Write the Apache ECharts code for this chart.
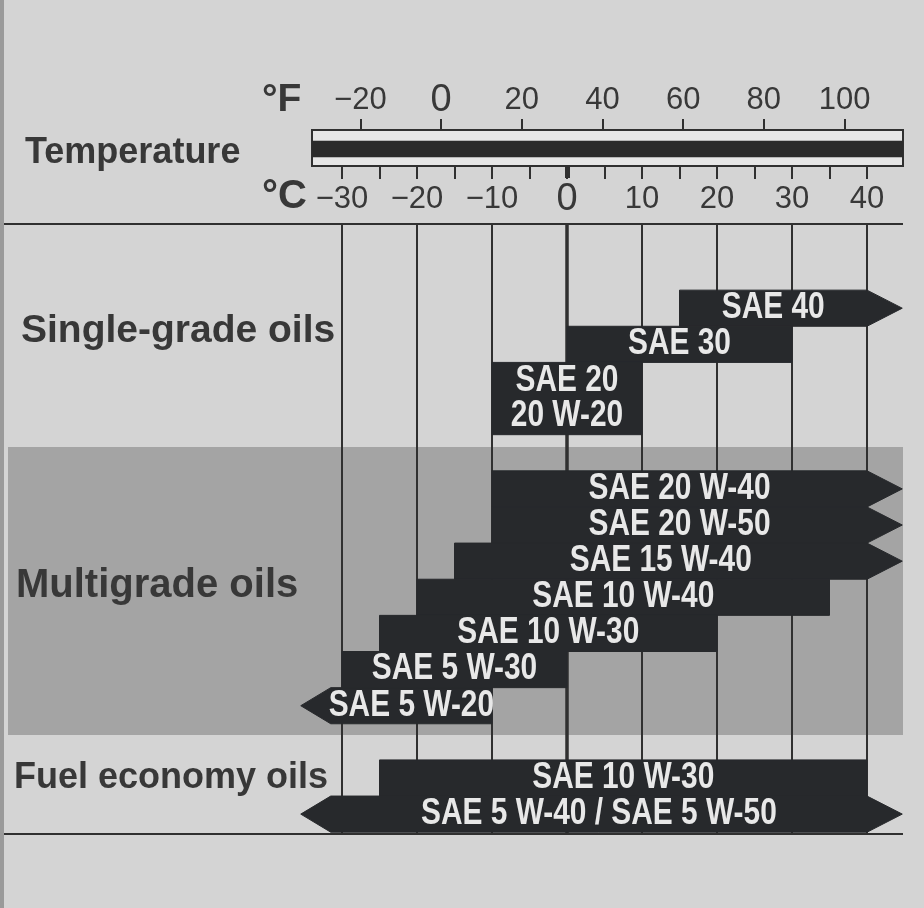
<!DOCTYPE html>
<html>
<head>
<meta charset="utf-8">
<title>Engine oil viscosity / temperature chart</title>
<script src="https://cdn.jsdelivr.net/npm/echarts@6/dist/echarts.min.js"></script>
<style>
  html, body { margin: 0; padding: 0; background: #d4d4d4; }
  #chart { width: 924px; height: 908px; }
</style>
</head>
<body>
<div id="chart"></div>
<script>
// temperature scale
const celsiusLabels = [-30, -20, -10, 0, 10, 20, 30, 40];
const celsiusTicks = [-30, -25, -20, -15, -10, -5, 0, 5, 10, 15, 20, 25, 30, 35, 40];
const fahrenheitLabels = [-20, 0, 20, 40, 60, 80, 100];

// oil grades, top to bottom. from/to in °C, null = open end (arrow)
const gradeNames = [
  'SAE 40', 'SAE 30', 'SAE 20\n20 W-20',
  'SAE 20 W-40', 'SAE 20 W-50', 'SAE 15 W-40', 'SAE 10 W-40', 'SAE 10 W-30', 'SAE 5 W-30', 'SAE 5 W-20',
  'SAE 10 W-30', 'SAE 5 W-40 / SAE 5 W-50'
];
const gradeGroup = [0, 0, 0, 1, 1, 1, 1, 1, 1, 1, 2, 2];
const gradeFrom = [15, 0, -10, -10, -10, -15, -20, -25, -30, null, -25, null];
const gradeTo = [null, 30, 10, null, null, null, 35, 20, 0, -10, 40, null];
const groupNames = ['Single-grade oils', 'Multigrade oils', 'Fuel economy oils'];

// layout (rows of the main grid, one row per text line, one empty row between groups)
const ROW_MIN = -1.83, ROW_MAX = 15.05;
const BAND_ROWS = [4.34, 12.31];
const OPEN_LOW = -31.5, TIP_LOW = -35.5, OPEN_HIGH = 40, TIP_HIGH = 44.7, EDGE = 44.8;

const PAPER = '#d4d4d4';
const INK = '#303030';
const BAR = '#27292c';
const TEXT = '#383838';
const SANS = '"Liberation Sans", Arial, sans-serif';

const rowStart = [];
const rowSpan = gradeNames.map(n => n.split('\n').length);
let row = 0;
gradeNames.forEach((n, i) => {
  if (i > 0 && gradeGroup[i] !== gradeGroup[i - 1]) row += 1;
  rowStart.push(row);
  row += rowSpan[i];
});

const tempLabel = v => v === 0 ? '{zero|0}' : String(v).replace('-', '\u2212');
const labelStyle = {
  color: TEXT, fontSize: 31, fontFamily: SANS,
  formatter: tempLabel,
  rich: { zero: { fontSize: 38, lineHeight: 31, fontFamily: SANS, color: TEXT } }
};

const chart = echarts.init(document.getElementById('chart'));

function renderGrade (params, api) {
  const i = params.dataIndex;
  const x = v => api.coord([v, 0])[0];
  const y = r => api.coord([0, r])[1];
  const yt = y(rowStart[i]);
  const yb = y(rowStart[i] + rowSpan[i]);
  const ym = (yt + yb) / 2;
  const left = gradeFrom[i] === null ? OPEN_LOW : gradeFrom[i];
  const right = gradeTo[i] === null ? OPEN_HIGH : gradeTo[i];
  const pts = [[x(left), yt], [x(right), yt]];
  if (gradeTo[i] === null) pts.push([x(TIP_HIGH), ym]);
  pts.push([x(right), yb], [x(left), yb]);
  if (gradeFrom[i] === null) pts.push([x(TIP_LOW), ym]);
  return {
    type: 'group',
    children: [
      { type: 'polygon', shape: { points: pts }, style: { fill: BAR, stroke: BAR, lineWidth: 1 } },
      {
        type: 'text',
        x: (x(left) + x(right)) / 2,
        y: ym,
        scaleX: 0.83,
        style: {
          text: gradeNames[i],
          x: 0,
          y: 0,
          align: 'center',
          verticalAlign: 'middle',
          fill: '#e8e8e8',
          fontSize: 36,
          fontWeight: 'bold',
          fontFamily: SANS,
          lineHeight: 35
        }
      }
    ]
  };
}

const option = {
  backgroundColor: PAPER,
  animation: false,
  grid: [
    { left: 312, right: 21, top: 130, height: 36, show: true, backgroundColor: '#e6e6e6', borderColor: INK, borderWidth: 2 },
    { left: 342, right: 57, top: 224, bottom: 74 }
  ],
  xAxis: [
    {
      gridIndex: 0, type: 'value', position: 'bottom', min: -34, max: 44.8,
      axisLine: { show: false, onZero: false }, splitLine: { show: false },
      axisTick: { customValues: celsiusTicks, length: 13, lineStyle: { color: INK, width: 2 } },
      axisLabel: Object.assign({ customValues: celsiusLabels, margin: 18 }, labelStyle)
    },
    {
      gridIndex: 0, type: 'value', position: 'top', min: -32, max: 114.5,
      axisLine: { show: false, onZero: false }, splitLine: { show: false },
      axisTick: { customValues: fahrenheitLabels, length: 11, lineStyle: { color: INK, width: 2 } },
      axisLabel: Object.assign({ customValues: fahrenheitLabels, margin: 14 }, labelStyle)
    },
    {
      gridIndex: 0, type: 'value', position: 'bottom', min: -34, max: 44.8,
      axisLine: { show: false, onZero: false }, splitLine: { show: false },
      axisTick: { customValues: [0], length: 12, lineStyle: { color: INK, width: 5 } },
      axisLabel: { show: false, customValues: [0] }
    },
    { gridIndex: 1, type: 'value', min: -30, max: 40, show: false }
  ],
  yAxis: [
    { gridIndex: 0, type: 'value', min: 0, max: 1, inverse: true, show: false },
    { gridIndex: 1, type: 'value', min: ROW_MIN, max: ROW_MAX, inverse: true, show: false }
  ],
  series: [
    {
      // dark band inside the thermometer box
      type: 'custom', xAxisIndex: 0, yAxisIndex: 0, z: 3,
      data: [[0]],
      renderItem: (params, api) => {
        const cs = params.coordSys;
        const y0 = api.coord([0, 0.3])[1];
        const y1 = api.coord([0, 0.76])[1];
        return { type: 'rect', shape: { x: cs.x, y: y0, width: cs.width, height: y1 - y0 }, style: { fill: '#2b2b2b' } };
      }
    },
    {
      // grey multigrade band
      type: 'custom', xAxisIndex: 3, yAxisIndex: 1, z: 1, clip: false,
      data: [BAND_ROWS],
      renderItem: (params, api) => {
        const y0 = api.coord([0, api.value(0)])[1];
        const y1 = api.coord([0, api.value(1)])[1];
        const x1 = api.coord([EDGE, 0])[0];
        return { type: 'rect', shape: { x: 8, y: y0, width: x1 - 8, height: y1 - y0 }, style: { fill: '#a4a4a4' } };
      }
    },
    {
      // horizontal rules above and below the chart body
      type: 'custom', xAxisIndex: 3, yAxisIndex: 1, z: 2, clip: false,
      data: [[ROW_MIN], [ROW_MAX]],
      renderItem: (params, api) => {
        const yy = api.coord([0, api.value(0)])[1];
        const x1 = api.coord([EDGE, 0])[0];
        return { type: 'line', shape: { x1: 3, y1: yy, x2: x1, y2: yy }, style: { stroke: INK, lineWidth: 2 } };
      }
    },
    {
      // vertical °C lines
      type: 'custom', xAxisIndex: 3, yAxisIndex: 1, z: 2,
      data: celsiusLabels.map(v => [v]),
      renderItem: (params, api) => {
        const v = api.value(0);
        const p0 = api.coord([v, ROW_MIN]);
        const p1 = api.coord([v, ROW_MAX]);
        return { type: 'line', shape: { x1: p0[0], y1: p0[1], x2: p1[0], y2: p1[1] }, style: { stroke: INK, lineWidth: v === 0 ? 3.5 : 2 } };
      }
    },
    {
      type: 'custom', xAxisIndex: 3, yAxisIndex: 1, z: 4, clip: false,
      data: gradeNames.map((n, i) => [gradeFrom[i] === null ? OPEN_LOW : gradeFrom[i], gradeTo[i] === null ? OPEN_HIGH : gradeTo[i], rowStart[i]]),
      renderItem: renderGrade
    }
  ],
  graphic: [
    { type: 'rect', z: 100, shape: { x: 0, y: 0, width: 4, height: 908 }, style: { fill: '#9a9a9a' }, silent: true },
    { type: 'text', z: 100, x: 25, y: 153, style: { text: 'Temperature', fill: TEXT, fontSize: 36, fontWeight: 'bold', fontFamily: SANS, verticalAlign: 'middle' } },
    { type: 'text', z: 100, x: 262, y: 100, style: { text: '°F', fill: TEXT, fontSize: 39, fontWeight: 'bold', fontFamily: SANS, verticalAlign: 'middle' } },
    { type: 'text', z: 100, x: 262, y: 197, style: { text: '°C', fill: TEXT, fontSize: 40, fontWeight: 'bold', fontFamily: SANS, verticalAlign: 'middle' } },
    { type: 'text', z: 100, x: 21, y: 331, style: { text: groupNames[0], fill: TEXT, fontSize: 39, fontWeight: 'bold', fontFamily: SANS, verticalAlign: 'middle' } },
    { type: 'text', z: 100, x: 16, y: 586, style: { text: groupNames[1], fill: TEXT, fontSize: 40, fontWeight: 'bold', fontFamily: SANS, verticalAlign: 'middle' } },
    { type: 'text', z: 100, x: 14, y: 778, style: { text: groupNames[2], fill: TEXT, fontSize: 36, fontWeight: 'bold', fontFamily: SANS, verticalAlign: 'middle' } }
  ]
};

chart.setOption(option);
</script>
</body>
</html>
